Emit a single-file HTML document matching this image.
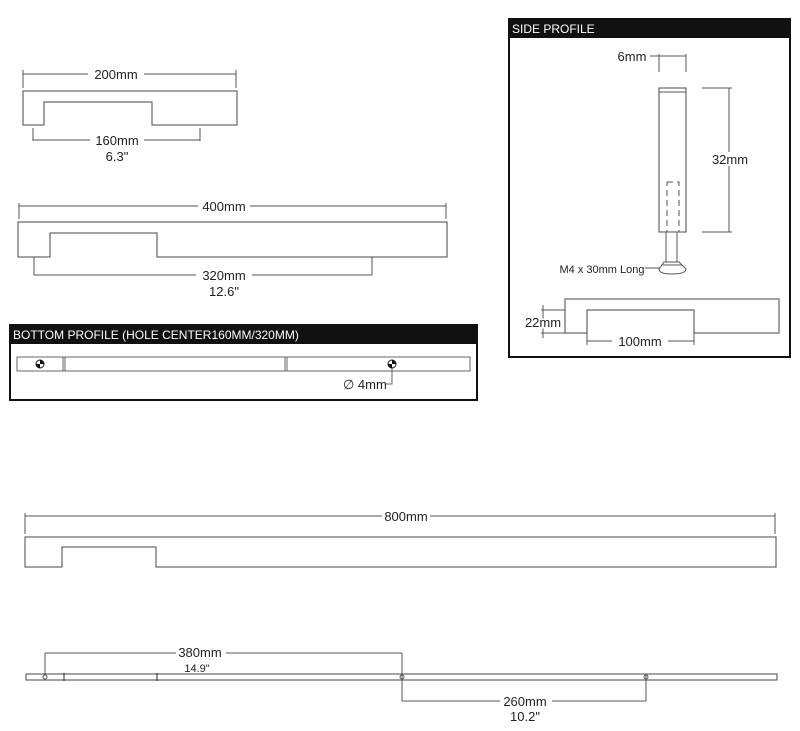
<!DOCTYPE html>
<html><head><meta charset="utf-8"><style>
html,body{margin:0;padding:0;background:#fff;}
svg{display:block;}
text{font-family:"Liberation Sans",sans-serif;fill:#222;}
</style></head><body>
<svg width="800" height="731" viewBox="0 0 800 731" xmlns="http://www.w3.org/2000/svg">
<g stroke="#555" stroke-width="1" fill="none">
<line x1="23" y1="74" x2="236" y2="74"/><line x1="23" y1="70" x2="23" y2="88"/><line x1="236" y1="70" x2="236" y2="88"/>
<path d="M23 91 H237 V125 H152 V102 H44 V125 H23 Z" stroke="#444"/>
<line x1="33" y1="128" x2="33" y2="141"/><line x1="200" y1="128" x2="200" y2="141"/><line x1="33" y1="140" x2="200" y2="140"/>
<line x1="19" y1="206" x2="446" y2="206"/><line x1="19" y1="203" x2="19" y2="219"/><line x1="446" y1="203" x2="446" y2="219"/>
<path d="M18 222 H447 V257 H157 V233 H50 V257 H18 Z" stroke="#444"/>
<line x1="34" y1="257" x2="34" y2="275"/><line x1="372" y1="257" x2="372" y2="275"/><line x1="34" y1="275" x2="372" y2="275"/>
<line x1="25" y1="516" x2="775" y2="516"/><line x1="25" y1="513" x2="25" y2="534"/><line x1="775" y1="513" x2="775" y2="534"/>
<path d="M25 537 H776 V567 H156 V547 H62 V567 H25 Z" stroke="#444"/>
<rect x="26" y="674" width="751" height="6" stroke="#444"/>
<line x1="64" y1="673" x2="64" y2="681" stroke="#222"/><line x1="157" y1="673" x2="157" y2="681" stroke="#222"/>
<line x1="45" y1="653" x2="45" y2="674"/><line x1="402" y1="653" x2="402" y2="701"/><line x1="646" y1="674" x2="646" y2="701"/>
<line x1="45" y1="653" x2="402" y2="653"/><line x1="402" y1="701" x2="646" y2="701"/>
<circle cx="45" cy="677" r="2"/><circle cx="402" cy="677" r="2"/><circle cx="646" cy="677" r="2"/>
</g>
<g font-size="13" text-anchor="middle">
<rect x="88" y="66" width="56" height="14" fill="#fff"/><text x="116" y="79">200mm</text>
<rect x="90" y="133" width="54" height="14" fill="#fff"/><text x="117" y="145">160mm</text><text x="117" y="161">6.3"</text>
<rect x="198" y="198" width="52" height="14" fill="#fff"/><text x="224" y="211">400mm</text>
<rect x="196" y="268" width="56" height="14" fill="#fff"/><text x="224" y="280">320mm</text><text x="224" y="296">12.6"</text>
<rect x="382" y="509" width="48" height="14" fill="#fff"/><text x="406" y="521">800mm</text>
<rect x="176" y="646" width="50" height="14" fill="#fff"/><text x="200" y="657">380mm</text>
<text x="197" y="672" font-size="11">14.9"</text>
<rect x="500" y="694" width="52" height="14" fill="#fff"/><text x="525" y="706">260mm</text><text x="525" y="721">10.2"</text>
</g>
<rect x="10" y="325" width="467" height="75" fill="#fff" stroke="#111" stroke-width="2"/>
<rect x="10" y="325" width="467" height="19" fill="#111"/>
<text x="13" y="339" font-size="12" style="fill:#fff">BOTTOM PROFILE (HOLE CENTER160MM/320MM)</text>
<g stroke="#666" fill="none">
<rect x="17" y="357" width="453" height="14"/>
<line x1="63" y1="357" x2="63" y2="371"/><line x1="65" y1="357" x2="65" y2="371"/>
<line x1="285" y1="357" x2="285" y2="371"/><line x1="287" y1="357" x2="287" y2="371"/>
<path d="M392 368 V384 H386"/>
</g>
<g>
<circle cx="40" cy="364" r="4" fill="#fff" stroke="#111"/><path d="M40 364 V360 A4 4 0 0 1 44 364 Z M40 364 V368 A4 4 0 0 1 36 364 Z" fill="#111"/>
<circle cx="392" cy="364" r="4" fill="#fff" stroke="#111"/><path d="M392 364 V360 A4 4 0 0 1 396 364 Z M392 364 V368 A4 4 0 0 1 388 364 Z" fill="#111"/>
</g>
<text x="343" y="389" font-size="13">∅ 4mm</text>
<rect x="509" y="19" width="281" height="338" fill="none" stroke="#111" stroke-width="2"/>
<rect x="509" y="19" width="281" height="19" fill="#111"/>
<text x="512" y="33" font-size="12" style="fill:#fff">SIDE PROFILE</text>
<g stroke="#555" fill="none">
<line x1="659" y1="54" x2="659" y2="72"/><line x1="686" y1="54" x2="686" y2="72"/><line x1="650" y1="56" x2="686" y2="56"/>
<rect x="659" y="88" width="27" height="144" stroke="#444"/><line x1="659" y1="92" x2="686" y2="92"/>
<rect x="667" y="182" width="12" height="50" stroke-dasharray="6 4"/>
<line x1="666" y1="232" x2="666" y2="262"/><line x1="677" y1="232" x2="677" y2="262"/>
<path d="M664 262 H679 L686 269 Q686 274 672 274 Q659 274 659 269 Z"/><line x1="662" y1="265" x2="682" y2="265"/>
<line x1="645" y1="268" x2="660" y2="268"/>
<line x1="702" y1="88" x2="732" y2="88"/><line x1="702" y1="232" x2="732" y2="232"/><line x1="729" y1="88" x2="729" y2="232"/>
<path d="M565 299 H779 V333 H694 V310 H587 V333 H565 Z" stroke="#444"/>
<line x1="541" y1="310" x2="565" y2="310"/><line x1="541" y1="333" x2="565" y2="333"/><line x1="543" y1="305" x2="543" y2="338"/>
<line x1="587" y1="333" x2="587" y2="345"/><line x1="694" y1="333" x2="694" y2="345"/><line x1="587" y1="341" x2="694" y2="341"/>
</g>
<g font-size="13" text-anchor="middle">
<text x="632" y="61">6mm</text>
<rect x="709" y="152" width="42" height="14" fill="#fff"/><text x="730" y="164">32mm</text>
<text x="602" y="273" font-size="11">M4 x 30mm Long</text>
<text x="543" y="327" style="paint-order:stroke" stroke="#fff" stroke-width="3">22mm</text>
<rect x="612" y="334" width="56" height="14" fill="#fff"/><text x="640" y="346">100mm</text>
</g>
</svg>
</body></html>
